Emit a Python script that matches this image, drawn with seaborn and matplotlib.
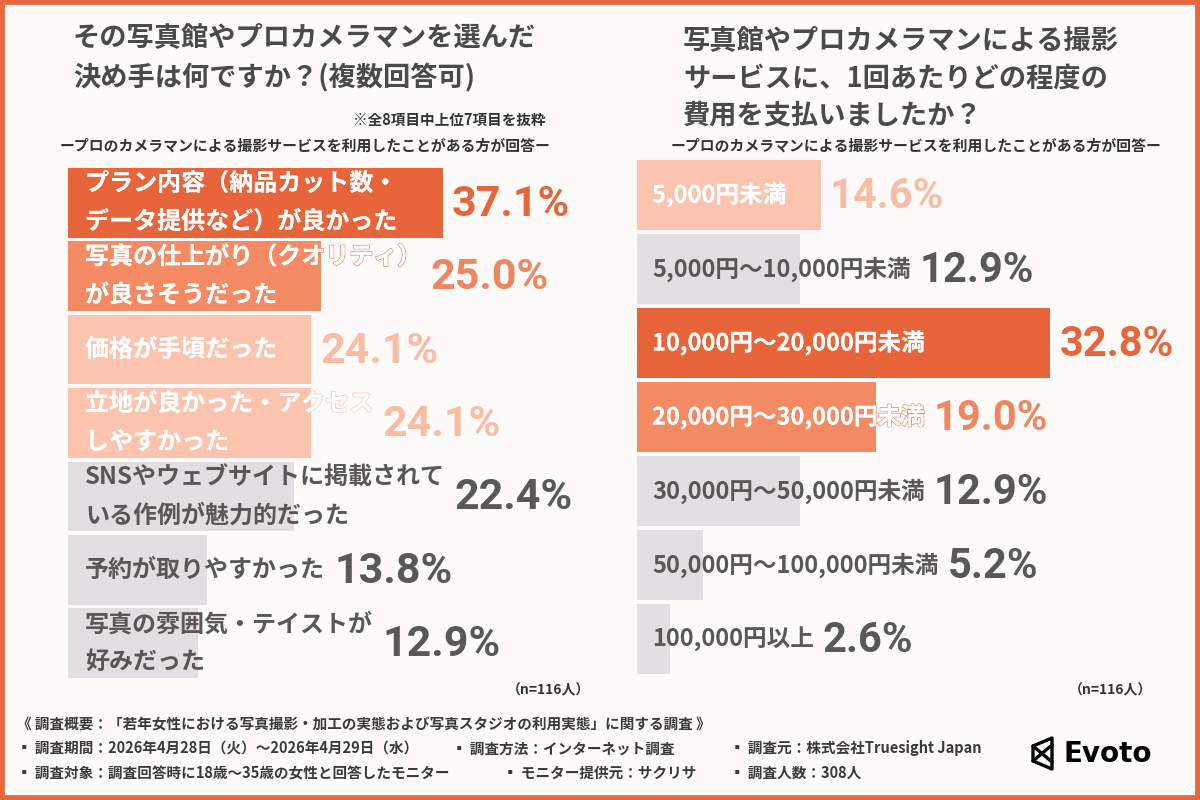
import matplotlib
matplotlib.use("Agg")
import matplotlib.pyplot as plt
import matplotlib.patheffects as pe
from matplotlib import font_manager
from matplotlib.font_manager import FontProperties
from matplotlib.patches import Rectangle, Polygon
import seaborn as sns
import pandas as pd

# =============================================================================
# DATA
# =============================================================================

left_title = ["その写真館やプロカメラマンを選んだ", "決め手は何ですか？(複数回答可)"]
right_title = ["写真館やプロカメラマンによる撮影", "サービスに、1回あたりどの程度の", "費用を支払いましたか？"]
subtitle = "ープロのカメラマンによる撮影サービスを利用したことがある方が回答ー"
left_note = "※全8項目中上位7項目を抜粋"
sample_note = "（n=116人）"

reason_labels = [
    "プラン内容（納品カット数・\nデータ提供など）が良かった",
    "写真の仕上がり（クオリティ）\nが良さそうだった",
    "価格が手頃だった",
    "立地が良かった・アクセス\nしやすかった",
    "SNSやウェブサイトに掲載されて\nいる作例が魅力的だった",
    "予約が取りやすかった",
    "写真の雰囲気・テイストが\n好みだった",
]
reason_values = [37.1, 25.0, 24.1, 24.1, 22.4, 13.8, 12.9]

cost_labels = [
    "5,000円未満",
    "5,000円～10,000円未満",
    "10,000円～20,000円未満",
    "20,000円～30,000円未満",
    "30,000円～50,000円未満",
    "50,000円～100,000円未満",
    "100,000円以上",
]
cost_values = [14.6, 12.9, 32.8, 19.0, 12.9, 5.2, 2.6]

footer_lines = [
    ["《 調査概要：「若年女性における写真撮影・加工の実態および写真スタジオの利用実態」に関する調査 》"],
    ["▪ 調査期間：2026年4月28日（火）～2026年4月29日（水）", "▪ 調査方法：インターネット調査", "▪ 調査元：株式会社Truesight Japan"],
    ["▪ 調査対象：調査回答時に18歳～35歳の女性と回答したモニター", "▪ モニター提供元：サクリサ", "▪ 調査人数：308人"],
]

# =============================================================================
# STYLE
# =============================================================================

sns.set_style("white")
plt.rcParams["font.family"] = ["Noto Sans CJK JP", "DejaVu Sans"]

# narrowest of the installed latin faces for the big percentages
installed = {f.name for f in font_manager.fontManager.ttflist}
num_family = "Roboto" if "Roboto" in installed else "Liberation Sans"

ORANGE = "#E8643A"
MID = "#F48B65"
LIGHT = "#FCC4AF"
GRAY = "#E1DFE1"
TEXT_GRAY = "#5B5759"
TITLE_GRAY = "#4A4A4A"

tone_bar = [ORANGE, MID, LIGHT]
tone_value = [ORANGE, "#F08660", "#FBBCA6"]

W, H = 1200, 800
fig = plt.figure(figsize=(12, 8), dpi=100, facecolor="#FDFBFA")


def fx(px):
    return px / W


def fy(py):
    return 1 - py / H


# colour by rank: top value dark, second mid, third light, the rest grey
def tones_for(values):
    ranks = sorted(set(values), reverse=True)
    return [ranks.index(v) if ranks.index(v) < 3 else 3 for v in values]


def draw_panel(ax, labels, values, px_per_unit, width_px, label_size, line_sp,
               value_size, text_pad_px, gap_px):
    tones = tones_for(values)
    bar_colors = [tone_bar[t] if t < 3 else GRAY for t in tones]
    df = pd.DataFrame({"label": labels, "value": values})
    sns.barplot(
        data=df, x="value", y="label", hue="label",
        palette=dict(zip(labels, bar_colors)),
        orient="h", width=0.95, saturation=1, linewidth=0,
        legend=False, ax=ax,
    )
    ax.set_xlim(0, width_px / px_per_unit)
    ax.set_ylim(len(labels) - 0.5, -0.5)
    ax.set_axis_off()
    ax.patch.set_alpha(0)

    texts = []
    for i, (lab, tone, bc) in enumerate(zip(labels, tones, bar_colors)):
        color = "white" if tone < 3 else TEXT_GRAY
        t = ax.text(text_pad_px / px_per_unit, i, lab, ha="left", va="center",
                    fontsize=label_size, fontweight="bold", color=color,
                    linespacing=line_sp)
        if tone < 3:
            t.set_path_effects([pe.withStroke(linewidth=1.2, foreground=bc), pe.Normal()])
        texts.append(t)

    fig.canvas.draw()
    renderer = fig.canvas.get_renderer()
    inv = ax.transData.inverted()
    for i, (t, val, tone) in enumerate(zip(texts, values, tones)):
        bb = t.get_window_extent(renderer)
        text_end = inv.transform((bb.x1, 0))[0]
        x = max(val, text_end) + gap_px / px_per_unit
        color = tone_value[tone] if tone < 3 else TEXT_GRAY
        ax.text(x, i + 0.02, f"{val:.1f}%", ha="left", va="center", color=color,
                fontproperties=FontProperties(family=num_family, weight="bold",
                                              size=value_size))


# =============================================================================
# PANELS
# =============================================================================

ax_left = fig.add_axes([fx(68), fy(680), fx(500), 514 / H])
draw_panel(ax_left, reason_labels, reason_values, 10.1, 500, 17.3, 1.75, 31, 17, 9)

ax_right = fig.add_axes([fx(637), fy(676), fx(500), 518 / H])
draw_panel(ax_right, cost_labels, cost_values, 12.6, 500, 17, 1.3, 30, 15, 9)

# titles
for k, line in enumerate(left_title):
    fig.text(fx(73), fy(37 + 41 * k), line, ha="left", va="center",
             fontsize=19.6, fontweight="bold", color=TITLE_GRAY)
for k, line in enumerate(right_title):
    fig.text(fx(683), fy(40 + 38 * k), line, ha="left", va="center",
             fontsize=19.6, fontweight="bold", color=TITLE_GRAY)

fig.text(fx(546), fy(120), left_note, ha="right", va="center",
         fontsize=10.5, fontweight="bold", color="#333333")
fig.text(fx(305), fy(146), subtitle, ha="center", va="center",
         fontsize=10.7, fontweight="bold", color="#333333")
fig.text(fx(916), fy(146), subtitle, ha="center", va="center",
         fontsize=10.7, fontweight="bold", color="#333333")

fig.text(fx(548), fy(690), sample_note, ha="center", va="center",
         fontsize=10, fontweight="bold", color="#333333")
fig.text(fx(1110), fy(690), sample_note, ha="center", va="center",
         fontsize=10, fontweight="bold", color="#333333")

# footer
col_x = [17, 452, 730]
col_x3 = [17, 503, 730]
for row, items in enumerate(footer_lines):
    xs = col_x3 if row == 2 else col_x
    for x, item in zip(xs, items):
        fig.text(fx(x), fy(724 + 24.5 * row), item, ha="left", va="center",
                 fontsize=10.5, fontweight="bold", color="#3A3A3A")

# Evoto logo
outline = [(1052, 738), (1052, 769), (1033, 761), (1033, 746)]
fig.patches.append(Polygon([(fx(a), fy(b)) for a, b in outline], closed=True, fill=False,
                           edgecolor="black", linewidth=2.4, joinstyle="round",
                           transform=fig.transFigure))
fig.lines.append(plt.Line2D([fx(1033), fx(1052)], [fy(746), fy(762)], color="black",
                            linewidth=2.4, transform=fig.transFigure))
fig.lines.append(plt.Line2D([fx(1033), fx(1052)], [fy(761), fy(745)], color="black",
                            linewidth=2.4, transform=fig.transFigure))
fig.text(fx(1063), fy(754), "Evoto", ha="left", va="center", fontsize=20,
         fontweight="bold", color="black", family=["DejaVu Sans"])

# orange frame
fig.patches.append(Rectangle((0, 0), 1, 1, transform=fig.transFigure, fill=False,
                             edgecolor="#E8663D", linewidth=7))

fig.savefig("out.png", dpi=100, facecolor=fig.get_facecolor())
